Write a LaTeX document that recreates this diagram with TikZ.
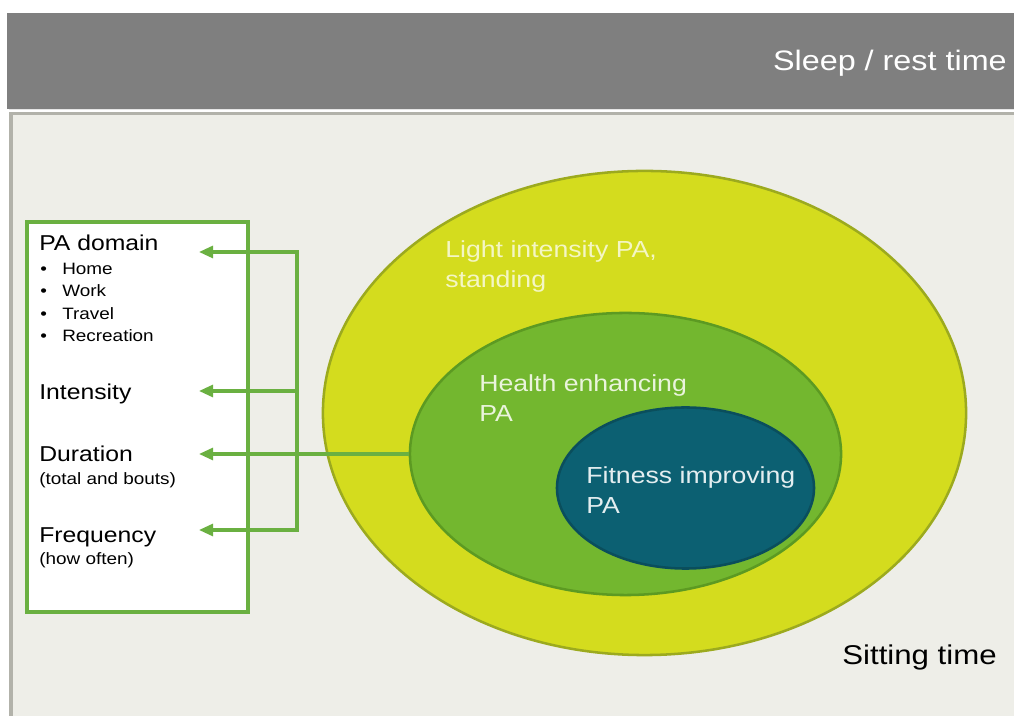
\documentclass[tikz,border=0pt]{standalone}
\usepackage{fontspec}
\setmainfont{Liberation Sans}[FakeStretch=1.15]
\usepackage{tikz}
\usetikzlibrary{arrows.meta,shapes.geometric,positioning}

\definecolor{bandgray}{HTML}{7F7F7F}
\definecolor{panel}{HTML}{EEEEE8}
\definecolor{panelline}{HTML}{B2B2AA}
\definecolor{linkgreen}{HTML}{6AB041}
\definecolor{lightfill}{HTML}{D4DC1E}
\definecolor{lightline}{HTML}{9CAA1E}
\definecolor{healthfill}{HTML}{73B72F}
\definecolor{healthline}{HTML}{5C9A22}
\definecolor{fitfill}{HTML}{0C6072}
\definecolor{fitline}{HTML}{0A4E5C}
\definecolor{lighttext}{HTML}{F4F6C4}
\definecolor{healthtext}{HTML}{EAF4DC}
\definecolor{fittext}{HTML}{E4EEF0}

\begin{document}
\begin{tikzpicture}[x=0.025cm,y=0.025cm,
		>={Triangle[length=10pt,width=8.5pt]},
		ring/.style={ellipse,draw,line width=1.8pt,inner sep=0pt},
		link/.style={draw=linkgreen,line width=2.2pt},
		lbl/.style={anchor=base west,inner sep=0pt,font=\fontsize{15.3}{18}\selectfont},
		sublbl/.style={anchor=base west,inner sep=0pt,font=\fontsize{11.7}{14}\selectfont},
		inlbl/.style={anchor=base west,inner sep=0pt,align=left,font=\fontsize{16.5}{21.5}\selectfont}]

	\useasboundingbox (0,0) rectangle (1014,716);
	\fill[white] (0,0) rectangle (1014,716);
	\fill[bandgray] (7,607) rectangle (1014,703);
	\draw[line width=0.7pt,white!80!bandgray] (9,606) -- (1014,606);
	\fill[panel] (11,0) rectangle (1014,602.5);
	\draw[line width=2.2pt,panelline] (11,0) -- (11,602.5) -- (1014,602.5);

	\node[anchor=base east,inner sep=0pt,text=white,font=\fontsize{20}{24}\selectfont] (sleep) at (1007,645) {Sleep / rest time};
	\node[anchor=base east,inner sep=0pt,font=\fontsize{19.3}{23}\selectfont] (sitting) at (997,51) {Sitting time};

	\node[ring,fill=lightfill,draw=lightline,minimum width=16.075cm,minimum height=12.1cm] (light) at (644.5,303) {};
	\node[ring,fill=healthfill,draw=healthline,minimum width=10.775cm,minimum height=7.05cm] (health) at (625.5,262) {};
	\node[ring,fill=fitfill,draw=fitline,minimum width=6.425cm,minimum height=4.025cm] (fit) at (685.5,228) {};

	\node[inlbl,text=lighttext] (lighttxt) at (445,428) {Light intensity PA,\\standing};
	\node[inlbl,text=healthtext] (healthtxt) at (479,294) {Health enhancing\\PA};
	\node[inlbl,text=fittext] (fittxt) at (586,202) {Fitness improving\\PA};

	\draw[link,fill=white] (27,104) rectangle (248,494);

	\node[lbl] (domain) at (39,465) {PA domain};
	\foreach \dom/\yy in {Home/441,Work/419,Travel/396,Recreation/374}{
		\node[sublbl] (dot-\dom) at (40,\yy) {•};
		\node[sublbl] (dom-\dom) at (62,\yy) {\dom};
	}
	\node[lbl] (intensity) at (39,316) {Intensity};
	\node[lbl] (duration) at (39,254) {Duration};
	\node[sublbl] (durnote) at (39,231) {(total and bouts)};
	\node[lbl] (frequency) at (39,173) {Frequency};
	\node[sublbl] (freqnote) at (39,151) {(how often)};

	\coordinate (jdomain) at (297,464);
	\coordinate (jint) at (297,325);
	\coordinate (jfreq) at (297,186);
	\coordinate (tdomain) at (199,464);
	\coordinate (tint) at (199,325);
	\coordinate (tfreq) at (199,186);

	\draw[link,<->] (tdomain) -- (jdomain) -- (jfreq) -- (tfreq);
	\draw[link,->] (jint) -- (tint);
	\draw[link,->] (health.west) -- (health.west -| tdomain);
\end{tikzpicture}
\end{document}
